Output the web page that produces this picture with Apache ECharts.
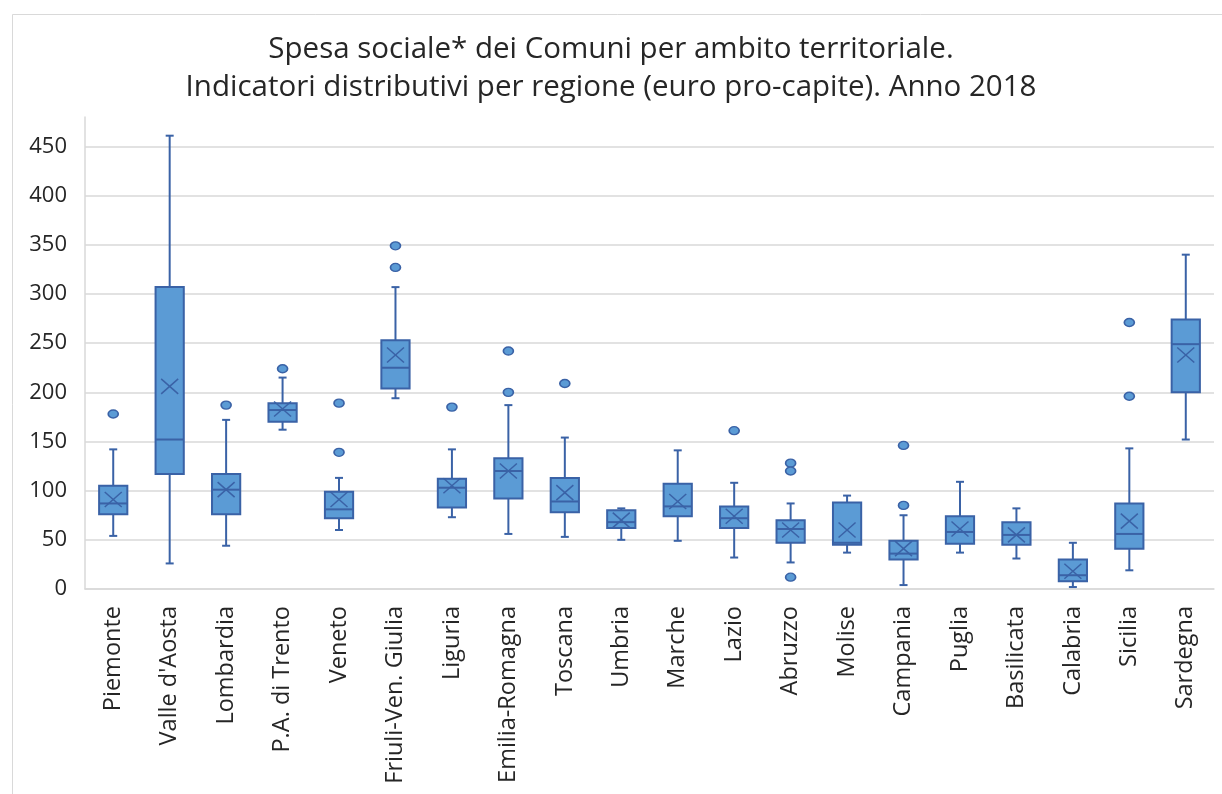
<!DOCTYPE html>
<html>
<head>
<meta charset="utf-8">
<script src="https://cdn.jsdelivr.net/npm/echarts@6/dist/echarts.min.js"></script>
<style>html,body{margin:0;padding:0;background:#fff;}#c{width:1222px;height:794px;}</style>
</head>
<body>
<div id="c"></div>
<script>
const categories = ["Piemonte","Valle d'Aosta","Lombardia","P.A. di Trento","Veneto","Friuli-Ven. Giulia","Liguria","Emilia-Romagna","Toscana","Umbria","Marche","Lazio","Abruzzo","Molise","Campania","Puglia","Basilicata","Calabria","Sicilia","Sardegna"];
const whiskerLow  = [54, 26, 44, 162, 60, 194, 73, 56, 53, 50, 49, 32, 27, 37, 4, 37, 31, 2, 19, 152];
const q1          = [76, 117, 76, 170, 72, 204, 83, 92, 78, 62, 74, 62, 47, 45, 30, 46, 45, 8, 41, 200];
const median      = [87, 152, 101, 182, 81, 225, 103, 120, 89, 68, 84, 72, 61, 47, 36, 58, 55, 14, 56, 249];
const q3          = [105, 307, 117, 189, 99, 253, 112, 133, 113, 80, 107, 84, 70, 88, 49, 74, 68, 30, 87, 274];
const whiskerHigh = [142, 461, 172, 215, 113, 307, 142, 187, 154, 82, 141, 108, 87, 95, 75, 109, 82, 47, 143, 340];
const mean        = [91, 206, 101, 183, 91, 238, 105, 120, 98, 70, 89, 74, 60, 60, 41, 61, 55, 18, 69, 238];
const outliers = {
  "Piemonte": [178],
  "Lombardia": [187],
  "P.A. di Trento": [224],
  "Veneto": [189, 139],
  "Friuli-Ven. Giulia": [349, 327],
  "Liguria": [185],
  "Emilia-Romagna": [242, 200],
  "Toscana": [209],
  "Lazio": [161],
  "Abruzzo": [128, 120, 12],
  "Campania": [146, 85],
  "Sicilia": [271, 196]
};
const yTicks = [0, 50, 100, 150, 200, 250, 300, 350, 400, 450];
const titleLines = ["Spesa sociale* dei Comuni per ambito territoriale.", "Indicatori distributivi per regione (euro pro-capite). Anno 2018"];

const FILL = '#5b9bd5';
const STROKE = '#3a62a6';
const FONT = 'Open Sans';

const boxData = categories.map((c, i) => [i, whiskerLow[i], q1[i], median[i], q3[i], whiskerHigh[i], mean[i]]);
const outlierData = [];
categories.forEach((c, i) => { (outliers[c] || []).forEach(v => outlierData.push([i, v])); });

function renderBox(params, api) {
  const i = api.value(0);
  const lo = api.coord([i, api.value(1)]);
  const b1 = api.coord([i, api.value(2)]);
  const md = api.coord([i, api.value(3)]);
  const b3 = api.coord([i, api.value(4)]);
  const hi = api.coord([i, api.value(5)]);
  const mn = api.coord([i, api.value(6)]);
  const band = api.size([1, 0])[0];
  const bw = band * 0.5;
  const x = lo[0];
  const cap = 4;
  const ls = {stroke: STROKE, lineWidth: 2};
  const xw = 8.5, xh = 7.5;
  return {
    type: 'group',
    children: [
      {type: 'line', shape: {x1: x, y1: lo[1], x2: x, y2: b1[1]}, style: ls},
      {type: 'line', shape: {x1: x, y1: b3[1], x2: x, y2: hi[1]}, style: ls},
      {type: 'line', shape: {x1: x - cap, y1: lo[1], x2: x + cap, y2: lo[1]}, style: ls},
      {type: 'line', shape: {x1: x - cap, y1: hi[1], x2: x + cap, y2: hi[1]}, style: ls},
      {type: 'rect', shape: {x: x - bw / 2, y: b3[1], width: bw, height: b1[1] - b3[1]}, style: {fill: FILL, stroke: STROKE, lineWidth: 2}},
      {type: 'line', shape: {x1: x - bw / 2, y1: md[1], x2: x + bw / 2, y2: md[1]}, style: ls},
      {type: 'line', shape: {x1: x - xw, y1: mn[1] - xh, x2: x + xw, y2: mn[1] + xh}, style: {stroke: STROKE, lineWidth: 1.5}},
      {type: 'line', shape: {x1: x - xw, y1: mn[1] + xh, x2: x + xw, y2: mn[1] - xh}, style: {stroke: STROKE, lineWidth: 1.5}}
    ]
  };
}

const chart = echarts.init(document.getElementById('c'));
chart.setOption({
  backgroundColor: '#ffffff',
  animation: false,
  graphic: [{
    type: 'rect', left: 10, top: 12,
    shape: {width: 1240, height: 800},
    style: {fill: 'none', stroke: '#d9d9d9', lineWidth: 1}, silent: true
  }],
  title: {
    text: titleLines.join('\n'),
    left: 'center', top: 26,
    textStyle: {fontFamily: FONT, fontSize: 29.5, fontWeight: 'normal', color: '#262626', lineHeight: 38}
  },
  grid: {left: 85, right: 8, top: 117, bottom: 205, containLabel: false},
  xAxis: {
    type: 'category',
    data: categories,
    axisLine: {show: true, lineStyle: {color: '#d9d9d9', width: 1.5}},
    axisTick: {show: false},
    axisLabel: {rotate: 90, interval: 0, margin: 17, fontFamily: FONT, fontSize: 23.5, color: '#262626'},
    splitLine: {show: false}
  },
  yAxis: {
    type: 'value',
    min: 0, max: 480, interval: 50,
    axisLine: {show: true, lineStyle: {color: '#d9d9d9', width: 1.5}},
    axisTick: {show: false},
    axisLabel: {
      showMaxLabel: false, margin: 18, fontFamily: FONT, fontSize: 22, color: '#262626',
      formatter: v => yTicks.indexOf(v) >= 0 ? String(v) : ''
    },
    splitLine: {show: true, showMaxLine: false, lineStyle: {color: '#d9d9d9', width: 1.5}}
  },
  series: [
    {
      type: 'custom',
      renderItem: renderBox,
      encode: {x: 0, y: [1, 2, 3, 4, 5, 6]},
      data: boxData,
      z: 2
    },
    {
      type: 'scatter',
      data: outlierData,
      symbol: 'circle',
      symbolSize: [10, 8],
      itemStyle: {color: FILL, borderColor: STROKE, borderWidth: 1.5, opacity: 1},
      z: 3
    }
  ]
});
</script>
</body>
</html>
